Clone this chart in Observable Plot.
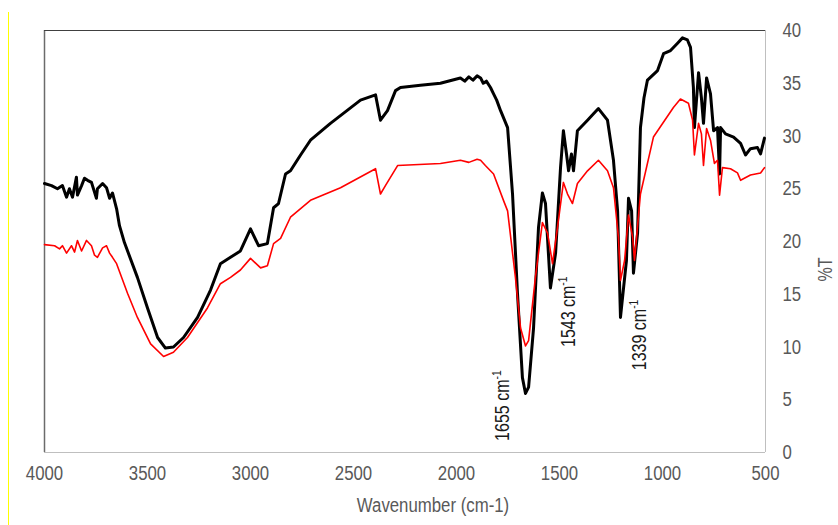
<!DOCTYPE html>
<html>
<head>
<meta charset="utf-8">
<script src="https://cdn.jsdelivr.net/npm/d3@7"></script>
<script src="https://cdn.jsdelivr.net/npm/@observablehq/plot@0.6"></script>
<style>
  html, body { margin: 0; padding: 0; background: #fff; }
  #wrap { position: relative; width: 838px; height: 525px; overflow: hidden; }
  #edge { position: absolute; left: 8px; top: 12px; width: 1px; height: 513px; background: #ffff00; }
  #chart { position: absolute; left: 0; top: 0; }
</style>
</head>
<body>
<div id="wrap"><div id="edge"></div><div id="chart"></div></div>
<script>
// Wavenumber (cm-1) and %T
const blackWn = [4000,3966,3937,3913,3893,3879,3864,3845,3840,3820,3806,3791,3772,3748,3743,3718,3699,3684,3670,3650,3636,3612,3549,3500,3451,3413,3374,3325,3257,3194,3146,3097,3049,3000,2961,2918,2888,2864,2830,2806,2757,2709,2612,2466,2393,2369,2335,2296,2272,2175,2078,1981,1960,1940,1920,1900,1883,1870,1855,1835,1820,1805,1786,1752,1728,1704,1680,1665,1650,1626,1602,1583,1568,1544,1519,1495,1481,1466,1456,1442,1432,1413,1364,1335,1311,1267,1238,1218,1204,1189,1175,1165,1150,1141,1121,1107,1090,1073,1024,995,961,927,903,879,864,850,845,825,811,801,786,767,752,733,723,718,694,655,621,597,573,539,524,505];
const blackT  = [25.5,25.3,25.0,25.3,24.2,25.0,24.2,26.1,24.4,25.3,26.0,25.8,25.6,24.1,25.0,25.5,25.1,24.1,24.6,23.1,21.5,19.9,16.6,13.7,10.9,9.9,10.0,10.9,12.8,15.4,17.9,18.5,19.1,21.2,19.6,19.8,23.2,23.6,26.4,26.7,28.2,29.6,31.2,33.4,33.9,31.5,32.4,34.3,34.6,34.8,35.0,35.5,35.2,35.6,35.3,35.7,35.5,35.0,35.2,34.6,34.0,33.4,32.4,30.8,24.5,15.1,7.1,5.6,6.2,11.8,21.3,24.6,23.6,15.6,18.9,27.0,30.5,28.3,26.7,28.3,26.7,30.5,31.5,32.1,32.6,31.5,27.7,22.9,12.8,15.6,18.2,24.1,22.9,17.0,20.8,30.8,33.6,35.3,36.2,37.8,38.1,38.8,39.3,39.1,38.4,34.6,30.8,36.0,33.6,31.2,35.5,34.0,30.5,30.8,26.4,30.8,30.2,29.9,29.3,28.2,28.8,28.9,28.3,29.8];

const redWn = [4000,3951,3927,3913,3893,3869,3854,3840,3820,3796,3772,3757,3743,3718,3699,3684,3670,3650,3597,3549,3485,3422,3374,3306,3209,3146,3097,3049,3000,2951,2918,2888,2854,2806,2709,2563,2393,2369,2345,2286,2078,1981,1940,1900,1883,1860,1820,1772,1752,1714,1689,1665,1650,1617,1583,1558,1534,1510,1481,1461,1437,1413,1364,1311,1267,1238,1214,1204,1184,1165,1145,1136,1107,1044,947,913,874,854,845,825,811,801,786,767,748,733,723,709,670,636,621,573,524,505];
const redT  = [19.7,19.6,19.3,19.6,18.9,19.6,19.0,20.1,19.1,20.1,19.6,18.7,18.5,19.4,19.6,18.9,18.5,17.9,15.1,12.8,10.3,9.1,9.5,10.9,13.7,16.0,16.6,17.3,18.4,17.5,17.7,19.8,20.3,22.3,23.9,25.1,26.9,24.5,25.3,27.2,27.4,27.7,27.5,27.8,27.7,27.2,26.4,23.9,22.9,16.6,11.8,10.1,10.6,16.6,21.8,20.8,17.9,21.3,25.6,24.5,23.6,25.5,26.7,27.7,26.7,25.1,20.4,16.3,18.2,22.5,20.4,18.2,24.5,29.9,32.7,33.5,33.1,31.5,28.2,31.2,30.2,27.2,30.7,29.6,27.4,27.7,24.4,27.0,26.9,26.5,25.8,26.3,26.5,27.0];

const xTicks = [4000,3500,3000,2500,2000,1500,1000,500];
const yTicks = [0,5,10,15,20,25,30,35,40];
const xTitle = "Wavenumber (cm-1)";
const yTitle = "%T";

// peak annotations: label, label position (wavenumber, %T at text start)
const annotText = ["1655", "1543", "1339"];
const annotWn = [1777, 1456, 1112];
const annotT = [1.1, 10.0, 7.8];

const font = "'Liberation Sans', Arial, sans-serif";
const grey = "#595959";

const chart = Plot.plot({
  width: 838,
  height: 525,
  marginLeft: 44,
  marginRight: 73,
  marginTop: 30,
  marginBottom: 73,
  style: {fontFamily: font, fontSize: "21px", color: grey, background: "transparent"},
  x: {domain: [4000, 500]},
  y: {domain: [0, 40]},
  marks: [
    Plot.ruleY([0], {stroke: "#bfbfbf", strokeWidth: 1}),
    Plot.ruleX([500], {stroke: "#bfbfbf", strokeWidth: 1}),
    Plot.ruleX([4000], {stroke: "#6b6b6b", strokeWidth: 1.5}),
    Plot.ruleY([40], {stroke: "#404040", strokeWidth: 1}),
    Plot.axisX({ticks: xTicks, tickSize: 0, tickPadding: 13, tickFormat: d => String(d), label: null, fill: grey, fontSize: 21}),
    Plot.axisY({anchor: "right", ticks: yTicks, tickSize: 0, tickPadding: 17, tickFormat: d => String(d), label: null, fill: grey, fontSize: 21}),
    Plot.text([xTitle], {frameAnchor: "bottom", dy: 59, dx: 28, text: d => d, fill: grey, fontSize: 21}),
    Plot.text([yTitle], {frameAnchor: "right", dx: 60, dy: 16, rotate: -90, text: d => d, fill: grey, fontSize: 20}),
    Plot.line({length: blackWn.length}, {x: blackWn, y: blackT, stroke: "#000", strokeWidth: 3, strokeLinejoin: "round", curve: "linear"}),
    Plot.line({length: redWn.length}, {x: redWn, y: redT, stroke: "#ff0000", strokeWidth: 1.6, strokeLinejoin: "round", curve: "linear"}),
    Plot.text({length: annotText.length}, {x: annotWn, y: annotT, text: annotText, rotate: -90, textAnchor: "start", fill: "#1a1a1a", fontSize: 20, className: "annot"})
  ]
});

// add "cm-1" with superscript to the peak labels
d3.select(chart).selectAll("g.annot text").each(function() {
  const t = d3.select(this);
  const num = t.text();
  t.text(null);
  t.append("tspan").text(num + " cm");
  t.append("tspan").attr("font-size", 13).attr("dy", "-0.6em").text("-1");
});

// narrow the lettering (the reference uses a condensed face)
d3.select(chart).selectAll("text").each(function() {
  const tr = this.getAttribute("transform") || "";
  this.setAttribute("transform", `${tr} scale(0.8,1)`);
});

document.getElementById("chart").appendChild(chart);
</script>
</body>
</html>
